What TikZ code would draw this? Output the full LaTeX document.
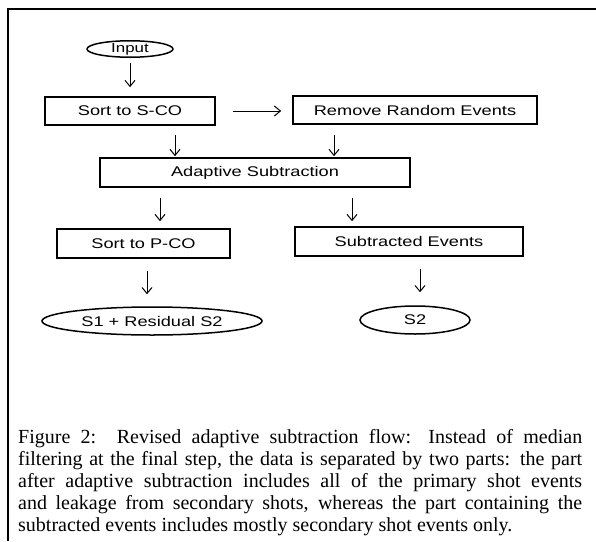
\documentclass[tikz,border=0pt]{standalone}
\usepackage{fontspec}
\setmainfont{Liberation Serif}
\newfontfamily\boxfont{Liberation Sans}[FakeStretch=1.3]
\usetikzlibrary{arrows.meta,shapes.geometric}

\tikzset{
  stepbox/.style={draw, line width=1.7pt, rectangle, inner sep=0pt,
    font=\boxfont\fontsize{14}{16}\selectfont},
  termnode/.style={draw, line width=1.5pt, ellipse, inner sep=0pt,
    font=\boxfont\fontsize{14}{16}\selectfont},
  flow/.style={line width=1pt, -{Straight Barb[length=6pt,width=10pt,line width=1pt]}},
}

\begin{document}
\begin{tikzpicture}[x=1pt, y=-1pt]
  \useasboundingbox (0,0) rectangle (596,541);

  % outer frame (top and left rules)
  \draw[line width=2.5pt] (8,541) -- (8,9) -- (596,9);

  % nodes
  \node[termnode, minimum width=86pt, minimum height=16pt,
        font=\boxfont\fontsize{13}{14}\selectfont] (input) at (130,49) {Input};
  \node[stepbox, minimum width=170pt, minimum height=28pt] (sco) at (130,111) {Sort to S-CO};
  \node[stepbox, minimum width=244pt, minimum height=28pt] (rre) at (415,110) {Remove Random Events};
  \node[stepbox, minimum width=310pt, minimum height=29pt] (ads) at (255,172.5) {Adaptive Subtraction};
  \node[stepbox, minimum width=173pt, minimum height=29pt] (pco) at (143.5,243.5) {Sort to P-CO};
  \node[stepbox, minimum width=228pt, minimum height=29pt] (sev) at (409,241.5) {Subtracted Events};
  \node[termnode, minimum width=220pt, minimum height=28pt] (s1) at (152,321) {S1 + Residual S2};
  \node[termnode, minimum width=110pt, minimum height=28pt] (s2) at (415,320) {S2};

  % connectors
  \draw[flow, shorten <=5pt, shorten >=9pt] (input.south) -- (sco.north);
  \draw[flow, shorten <=17pt, shorten >=11pt] (sco.east) -- (rre.west |- sco.east);
  \draw[flow, shorten <=9pt, shorten >=1pt] ([xshift=45pt]sco.south) -- ([xshift=-80pt]ads.north);
  \draw[flow, shorten <=10pt, shorten >=1pt] ([xshift=-81pt]rre.south) -- ([xshift=79pt]ads.north);
  \draw[flow, shorten <=10pt, shorten >=7pt] ([xshift=-95pt]ads.south) -- ([xshift=16.5pt]pco.north);
  \draw[flow, shorten <=10pt, shorten >=5pt] ([xshift=97pt]ads.south) -- ([xshift=-57pt]sev.north);
  \draw[flow, shorten <=12pt, shorten >=12pt] ([xshift=3.5pt]pco.south) -- ([xshift=-5pt]s1.north);
  \draw[flow, shorten <=12pt, shorten >=13pt] ([xshift=11pt]sev.south) -- ([xshift=5pt]s2.north);

  % caption, five lines, the first four set full width
  \node[anchor=north west, inner sep=0pt, text width=564pt, align=justify,
        font=\fontsize{20}{22}\selectfont] (cap) at (18,429)
    {Figure 2:\ \ Revised adaptive subtraction flow: Instead of median\linebreak
     filtering at the final step, the data is separated by two parts: the part\linebreak
     after adaptive subtraction includes all of the primary shot events\linebreak
     and leakage from secondary shots, whereas the part containing the\linebreak
     subtracted events includes mostly secondary shot events only.};
\end{tikzpicture}
\end{document}
